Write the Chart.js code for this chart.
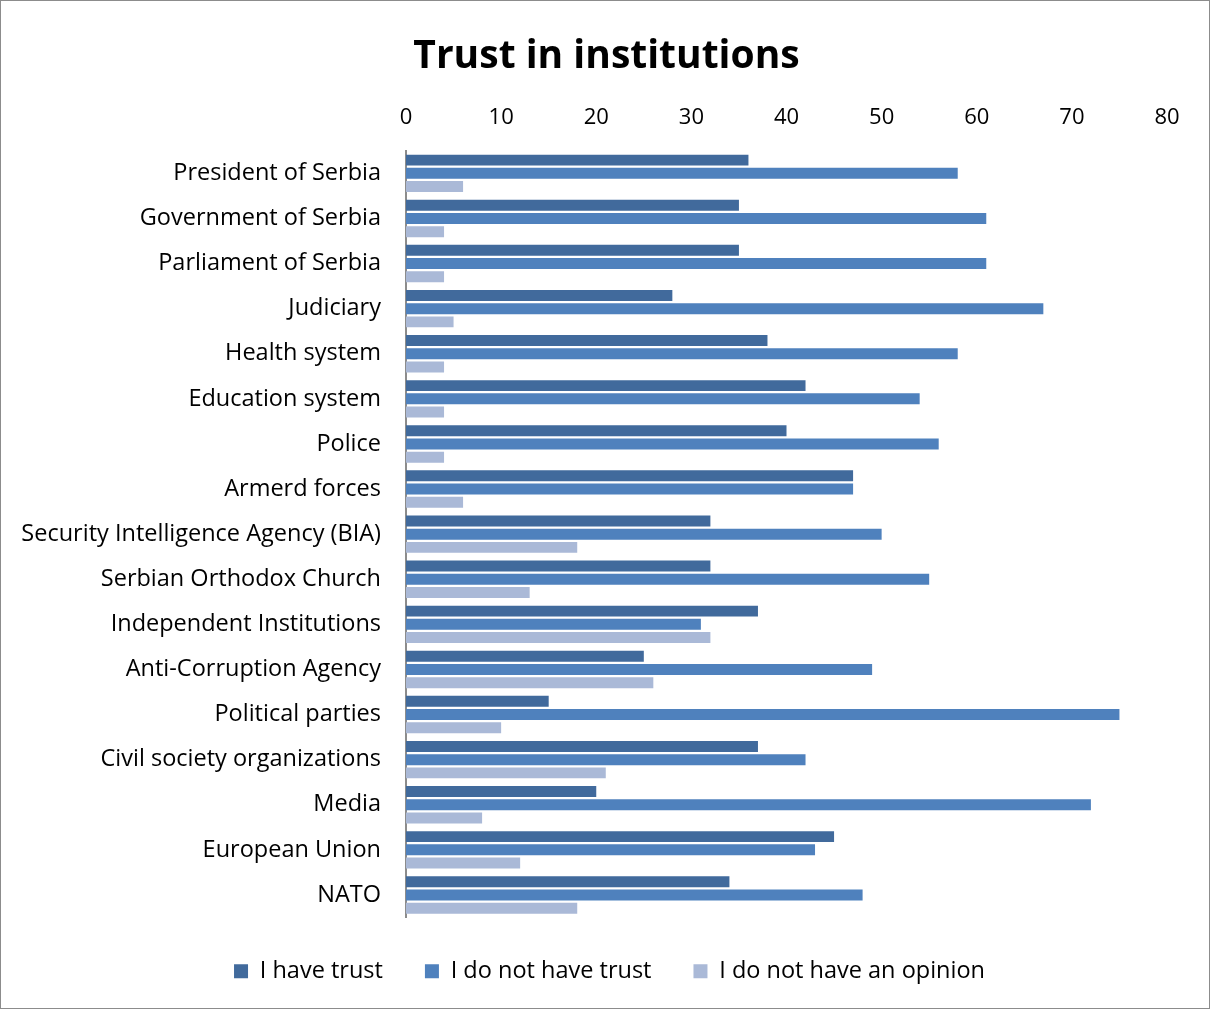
<!DOCTYPE html>
<html>
<head>
<meta charset="utf-8">
<script src="https://cdn.jsdelivr.net/npm/chart.js@4"></script>
<style>
html,body{margin:0;padding:0;background:#fff;}
#wrap{position:absolute;left:0;top:0;width:1208px;height:1007px;border:1px solid #8c8c8c;}
#c{position:absolute;left:0;top:0;}
</style>
</head>
<body>
<div id="wrap"></div>
<canvas id="c" width="1210" height="1010"></canvas>
<script>
const categories = ["President of Serbia","Government of Serbia","Parliament of Serbia","Judiciary","Health system","Education system","Police","Armerd forces","Security Intelligence Agency (BIA)","Serbian Orthodox Church","Independent Institutions","Anti-Corruption Agency","Political parties","Civil society organizations","Media","European Union","NATO"];
const haveTrust = [36,35,35,28,38,42,40,47,32,32,37,25,15,37,20,45,34];
const noTrust = [58,61,61,67,58,54,56,47,50,55,31,49,75,42,72,43,48];
const noOpinion = [6,4,4,5,4,4,4,6,18,13,32,26,10,21,8,12,18];
const seriesNames = ["I have trust","I do not have trust","I do not have an opinion"];
const tickValues = [0,10,20,30,40,50,60,70,80];

const FONT = "'Open Sans', sans-serif";
const colors = ["#416A9C","#4F81BD","#AAB9D7"];

// Shift title and legend horizontally to centre them on the whole frame
const centerShift = {
  id: 'centerShift',
  afterLayout(chart) {
    if (chart.titleBlock) { chart.titleBlock.left += 18; chart.titleBlock.right += 18; }
    if (chart.legend) { chart.legend.left += 21; chart.legend.right += 21; }
  }
};

new Chart(document.getElementById('c'), {
  type: 'bar',
  data: {
    labels: categories,
    datasets: [haveTrust, noTrust, noOpinion].map((d,i)=>({
      label: seriesNames[i],
      data: d,
      backgroundColor: colors[i],
      borderWidth: 0,
      categoryPercentage: 0.88,
      barPercentage: 0.83
    }))
  },
  plugins: [centerShift],
  options: {
    indexAxis: 'y',
    responsive: false,
    animation: false,
    devicePixelRatio: 1,
    layout: { padding: { left: 10, right: 43, top: 0, bottom: 17 } },
    plugins: {
      title: {
        display: true,
        text: "Trust in institutions",
        color: "#000",
        font: { family: FONT, size: 39, weight: 'bold' },
        padding: { top: 33, bottom: 0 }
      },
      legend: {
        position: 'bottom',
        labels: {
          color: "#000",
          font: { family: FONT, size: 23.5 },
          boxWidth: 14,
          boxHeight: 14,
          padding: 42
        }
      },
      tooltip: { enabled: false }
    },
    scales: {
      x: {
        position: 'top',
        min: 0, max: 80,
        afterBuildTicks: (s) => { s.ticks = tickValues.map(v => ({ value: v })); },
        afterFit: (s) => { s.height = 71; },
        grid: { display: false, drawTicks: false },
        border: { display: false },
        ticks: { color: "#000", font: { family: FONT, size: 22 }, padding: 20 }
      },
      y: {
        afterFit: (s) => { s.width = 396; },
        grid: { display: false, drawTicks: false },
        border: { display: true, color: "#8c8c8c", width: 2 },
        ticks: { color: "#000", font: { family: FONT, size: 23.5 }, padding: 25 }
      }
    }
  }
});
</script>
</body>
</html>
